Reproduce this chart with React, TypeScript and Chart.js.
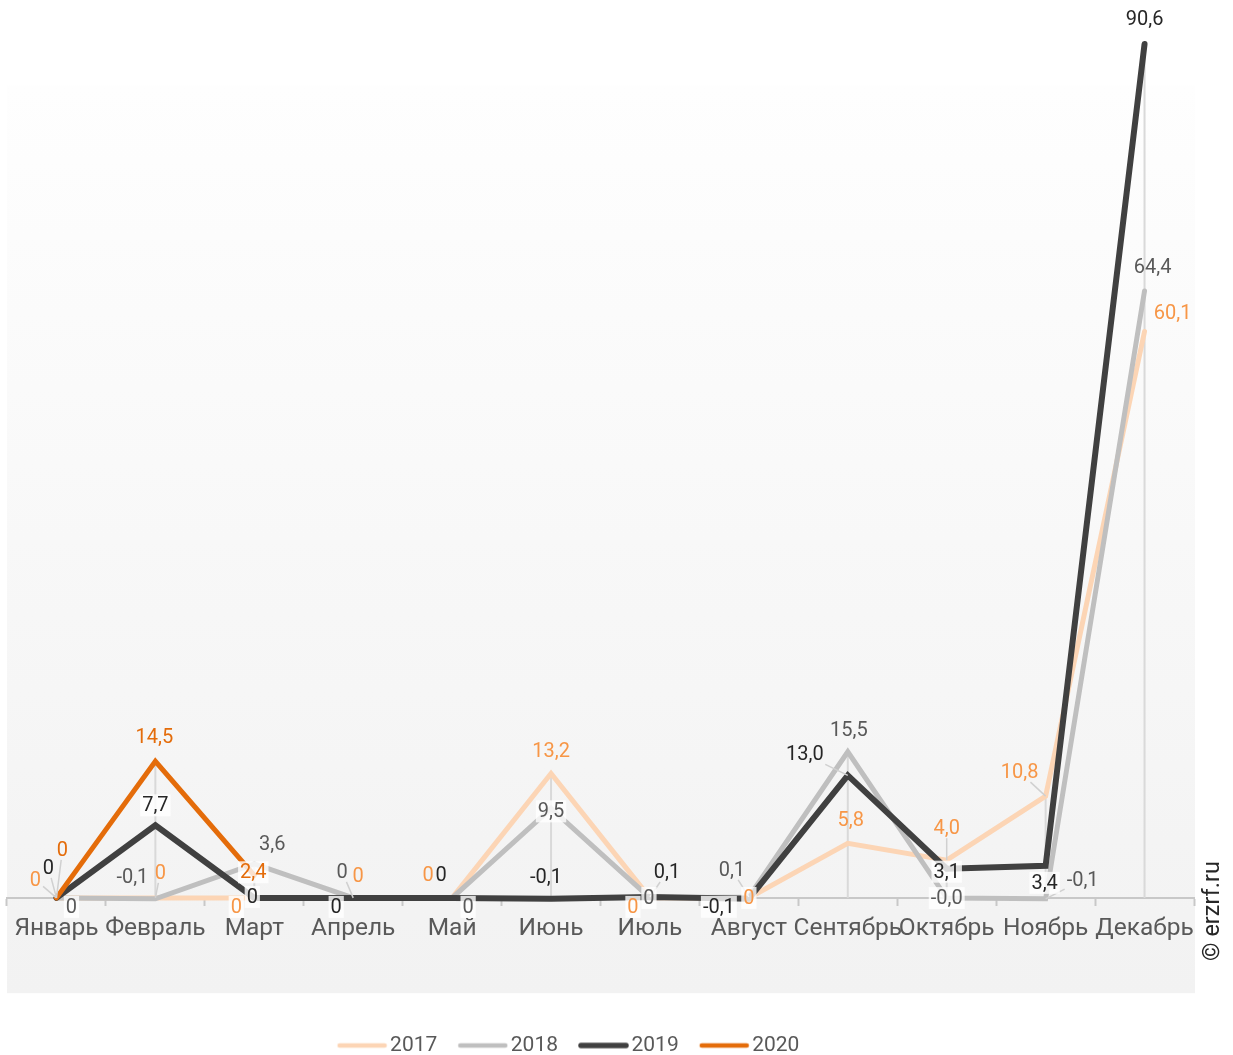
import React, { useEffect, useRef } from "react";
import { Chart, registerables } from "chart.js";

Chart.register(...registerables);

// ---------- data ----------
const months = [
  "Январь", "Февраль", "Март", "Апрель", "Май", "Июнь",
  "Июль", "Август", "Сентябрь", "Октябрь", "Ноябрь", "Декабрь",
];
const seriesNames = ["2017", "2018", "2019", "2020"];
const values2017 = [0, 0, 0, 0, 0, 13.2, 0, 0, 5.8, 4.0, 10.8, 60.1];
const values2018 = [0, -0.1, 3.6, 0, 0, 9.5, 0, 0.1, 15.5, -0.02, -0.1, 64.4];
const values2019 = [0, 7.7, 0, 0, 0, -0.1, 0.1, -0.1, 13.0, 3.1, 3.4, 90.6];
const values2020 = [0, 14.5, 2.4, null, null, null, null, null, null, null, null, null];

// ---------- styles ----------
const lineColors = ["#fcd5b5", "#bfbfbf", "#404040", "#e46c0a"];
const labelColors = ["#f79646", "#595959", "#262626", "#e46c0a"];
const lineWidths = [5, 5, 6, 5];
const drawOrder = [3, 2, 1, 0];

type LabelPos = { dx: number; dy: number; bg?: boolean; leader?: boolean };
const labels2017: LabelPos[] = [
  { dx: -21, dy: -18, leader: true }, { dx: 5, dy: -25, leader: true }, { dx: -18, dy: 9, bg: true },
  { dx: 5, dy: -22 }, { dx: -24, dy: -23 }, { dx: 0, dy: -22 },
  { dx: -17, dy: 9, bg: true }, { dx: 0, dy: 0, bg: true }, { dx: 3, dy: -23 },
  { dx: 0, dy: -32, leader: true }, { dx: -26, dy: -24, leader: true }, { dx: 28, dy: -18 },
];
const labels2018: LabelPos[] = [
  { dx: 15, dy: 9, bg: true }, { dx: -23, dy: -22 }, { dx: 18, dy: -20 },
  { dx: -11, dy: -26, leader: true }, { dx: 16, dy: 9, bg: true }, { dx: 0, dy: 3, bg: true },
  { dx: -1, dy: 0, bg: true }, { dx: -17, dy: -27, leader: true }, { dx: 1, dy: -22 },
  { dx: 0, dy: 0, bg: true }, { dx: 37, dy: -19, leader: true }, { dx: 8, dy: -24 },
];
const labels2019: LabelPos[] = [
  { dx: -8, dy: -30, leader: true }, { dx: 0, dy: -20, bg: true }, { dx: -2, dy: -1, bg: true },
  { dx: -17, dy: 9, bg: true }, { dx: -11, dy: -23 }, { dx: -5, dy: -22 },
  { dx: 17, dy: -25, leader: true }, { dx: -30, dy: 8, bg: true }, { dx: -43, dy: -21, leader: true },
  { dx: 0, dy: 3, bg: true }, { dx: -1, dy: 17, bg: true }, { dx: 0, dy: -25 },
];
const labels2020: LabelPos[] = [
  { dx: 6, dy: -48, leader: true }, { dx: -1, dy: -24 }, { dx: -1, dy: -3, bg: true },
];
const labelLayouts = [labels2017, labels2018, labels2019, labels2020];

const BG_TOP_VALUE = 86.2;
const BG_BOTTOM_VALUE = -10;
const FONT = "Roboto";

function fmt(v: number): string {
  if (v === 0) return "0";
  return v.toFixed(1).replace(".", ",");
}

// legend swatch: a rounded line, drawn towards the right of a wide image
function makeSwatch(color: string, width: number): HTMLCanvasElement {
  const c = document.createElement("canvas");
  c.width = 66;
  c.height = 10;
  const g = c.getContext("2d")!;
  g.strokeStyle = color;
  g.lineWidth = width;
  g.lineCap = "round";
  g.beginPath();
  g.moveTo(18, 5);
  g.lineTo(63, 5);
  g.stroke();
  return c;
}

const backgroundPlugin = {
  id: "bgGradient",
  beforeDraw(chart: any) {
    const { ctx, chartArea, scales } = chart;
    const top = scales.y.getPixelForValue(BG_TOP_VALUE);
    const bottom = scales.y.getPixelForValue(BG_BOTTOM_VALUE);
    const g = ctx.createLinearGradient(0, top, 0, bottom);
    g.addColorStop(0, "#fefefe");
    g.addColorStop(1, "#f2f2f2");
    ctx.save();
    ctx.fillStyle = g;
    ctx.fillRect(chartArea.left, top, chartArea.right - chartArea.left + 1, bottom - top + 1);
    ctx.restore();
  },
};

const dropLinePlugin = {
  id: "dropLines",
  beforeDatasetsDraw(chart: any) {
    const { ctx, scales } = chart;
    const y0 = scales.y.getPixelForValue(0);
    ctx.save();
    ctx.strokeStyle = "#d9d9d9";
    ctx.lineWidth = 2;
    months.forEach((_, i) => {
      let max = -Infinity;
      chart.data.datasets.forEach((ds: any) => {
        const v = ds.data[i];
        if (v != null && v > max) max = v;
      });
      if (max <= 0) return;
      const x = scales.x.getPixelForValue(i);
      ctx.beginPath();
      ctx.moveTo(x, y0);
      ctx.lineTo(x, scales.y.getPixelForValue(max));
      ctx.stroke();
    });
    ctx.restore();
  },
};

const dataLabelPlugin = {
  id: "dataLabels",
  afterDatasetsDraw(chart: any) {
    const { ctx } = chart;
    ctx.save();
    ctx.font = `20px ${FONT}`;
    ctx.textAlign = "center";
    ctx.textBaseline = "middle";
    const items: any[] = [];
    chart.data.datasets.forEach((ds: any, di: number) => {
      const meta = chart.getDatasetMeta(di);
      meta.data.forEach((pt: any, i: number) => {
        const v = ds.data[i];
        if (v == null) return;
        const lp = labelLayouts[di][i];
        if (!lp) return;
        const text = fmt(v);
        const w = ctx.measureText(text).width;
        items.push({ px: pt.x, py: pt.y, lx: pt.x + lp.dx, ly: pt.y + lp.dy, w, text, lp, color: labelColors[di] });
      });
    });
    ctx.strokeStyle = "#d0d0d0";
    ctx.lineWidth = 1.5;
    items.forEach((it) => {
      if (!it.lp.leader) return;
      const dx = it.px - it.lx;
      const dy = it.py - it.ly;
      const hw = it.w / 2 + 2;
      const hh = 10;
      const t = Math.min(dx !== 0 ? hw / Math.abs(dx) : Infinity, dy !== 0 ? hh / Math.abs(dy) : Infinity);
      if (t >= 1) return;
      ctx.beginPath();
      ctx.moveTo(it.lx + dx * t, it.ly + dy * t);
      ctx.lineTo(it.px, it.py);
      ctx.stroke();
    });
    items.forEach((it) => {
      if (it.lp.bg) {
        ctx.fillStyle = "rgba(255,255,255,0.8)";
        ctx.fillRect(it.lx - it.w / 2 - 2, it.ly - 11, it.w + 4, 22);
      }
      ctx.fillStyle = it.color;
      ctx.fillText(it.text, it.lx, it.ly + 1);
    });
    ctx.restore();
  },
};

const watermarkPlugin = {
  id: "watermark",
  afterDraw(chart: any) {
    const { ctx } = chart;
    ctx.save();
    ctx.translate(1213, 911);
    ctx.rotate(-Math.PI / 2);
    ctx.font = `23.5px ${FONT}`;
    ctx.fillStyle = "#262626";
    ctx.textAlign = "center";
    ctx.textBaseline = "middle";
    ctx.fillText("© erzrf.ru", 0, 0);
    ctx.restore();
  },
};

const legendShiftPlugin = {
  id: "legendShift",
  afterLayout(chart: any) {
    const lg = chart.legend;
    if (!lg) return;
    lg.left -= 72;
    lg.top += 11;
    lg.bottom += 11;
  },
};

export default function App() {
  const canvasRef = useRef<HTMLCanvasElement | null>(null);

  useEffect(() => {
    if (!canvasRef.current) return;
    Chart.defaults.font.family = FONT;
    const seriesValues = [values2017, values2018, values2019, values2020];
    const swatches = seriesNames.map((_, i) => makeSwatch(lineColors[i], lineWidths[i] - 0.5));
    const chart = new Chart(canvasRef.current, {
      type: "line",
      data: {
        labels: months,
        datasets: seriesNames.map((name, i) => ({
          label: name,
          data: seriesValues[i],
          borderColor: lineColors[i],
          backgroundColor: lineColors[i],
          borderWidth: lineWidths[i],
          borderCapStyle: "round",
          borderJoinStyle: "miter",
          pointRadius: 0,
          pointHoverRadius: 0,
          tension: 0,
          fill: false,
          spanGaps: false,
          order: drawOrder[i],
        })),
      },
      options: {
        animation: false,
        responsive: true,
        maintainAspectRatio: false,
        layout: { padding: { left: 7, right: 39, top: 20, bottom: 0 } },
        plugins: {
          legend: {
            position: "bottom",
            labels: {
              usePointStyle: true,
              pointStyleWidth: 50,
              padding: 13,
              color: "#595959",
              font: { size: 21, family: FONT },
              sort: (a: any, b: any) => a.datasetIndex - b.datasetIndex,
              generateLabels: (ch: any) => {
                const items = Chart.defaults.plugins.legend.labels.generateLabels(ch);
                return items.map((it: any) => ({ ...it, pointStyle: swatches[it.datasetIndex] }));
              },
            },
          },
          tooltip: { enabled: false },
        },
        scales: {
          x: {
            type: "category",
            position: { y: 0 } as any,
            offset: true,
            grid: {
              offset: true,
              drawOnChartArea: false,
              drawTicks: true,
              tickLength: 7,
              tickColor: "#c8c8c8",
              tickWidth: 2,
            },
            border: { display: true, color: "#c8c8c8", width: 2 },
            ticks: {
              autoSkip: false,
              maxRotation: 0,
              padding: 9,
              color: "#595959",
              font: { size: 24.5, family: FONT },
            },
          },
          y: {
            type: "linear",
            display: false,
            min: -12,
            max: 93.15,
          },
        },
      },
      plugins: [backgroundPlugin, dropLinePlugin, dataLabelPlugin, watermarkPlugin, legendShiftPlugin],
    });
    return () => chart.destroy();
  }, []);

  return (
    <div style={{ position: "absolute", left: 0, top: 0, width: 1233, height: 1055 }}>
      <canvas ref={canvasRef} />
    </div>
  );
}
